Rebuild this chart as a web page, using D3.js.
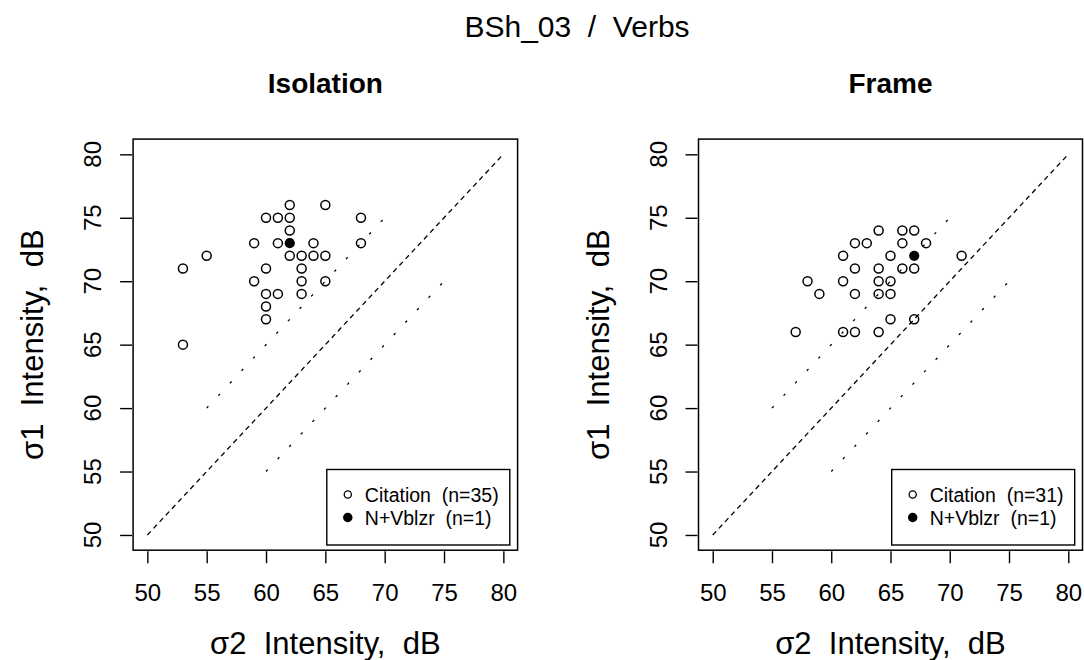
<!DOCTYPE html>
<html><head><meta charset="utf-8">
<script src="https://cdn.jsdelivr.net/npm/d3@7"></script>
<style>
body{margin:0;background:#fff;}
svg text{font-family:"Liberation Sans",Arial,sans-serif;white-space:pre;fill:#000;}
</style></head>
<body><svg id="c" width="1084" height="660"></svg>
<script>
// ---- data ----
const mainTitle = "BSh_03  /  Verbs";
const panelTitles = ["Isolation", "Frame"];
const xLabel = "σ2  Intensity,  dB";
const yLabel = "σ1  Intensity,  dB";
const tickValues = [50, 55, 60, 65, 70, 75, 80];
const legendLabelsIso = ["Citation  (n=35)", "N+Vblzr  (n=1)"];
const legendLabelsFrame = ["Citation  (n=31)", "N+Vblzr  (n=1)"];

const isoCitationX = [53,53,55,59,59,60,60,60,61,60,60,61,62,62,62,61,64,62,63,64,65,63,63,63,65,65,68,68];
const isoCitationY = [71,65,72,73,70,75,71,69,69,68,67,75,76,75,74,73,73,72,72,72,72,71,70,69,76,70,75,73];
const isoVerbX = [62];
const isoVerbY = [73];

const frameCitationX = [57,58,59,61,62,63,64,66,67,66,68,65,71,62,64,66,67,61,64,65,62,64,65,65,67,61,62,64];
const frameCitationY = [66,70,69,72,73,73,74,74,74,73,73,72,72,71,71,71,71,70,70,70,69,69,69,67,67,66,66,66];
const frameVerbX = [67];
const frameVerbY = [72];

// reference lines: identity and +/-5 dB bands
const diagX = [50, 80], diagY = [50, 80];
const upperX = [55, 70], upperY = [60, 75];
const lowerX = [60, 75], lowerY = [55, 70];

// ---- drawing ----
const svg = d3.select("#c");
const domain = [48.8, 81.2];
const plotTop = 139.1, plotBottom = 550.2;

svg.append("text").attr("x", 577).attr("y", 37).attr("text-anchor", "middle")
  .style("font-size", "30px").text(mainTitle);

const panels = [
  {left: 133.1, right: 517.6, title: panelTitles[0], cx: isoCitationX, cy: isoCitationY, vx: isoVerbX, vy: isoVerbY, leg: legendLabelsIso},
  {left: 698.5, right: 1082.5, title: panelTitles[1], cx: frameCitationX, cy: frameCitationY, vx: frameVerbX, vy: frameVerbY, leg: legendLabelsFrame}
];

panels.forEach(p => {
  const x = d3.scaleLinear().domain(domain).range([p.left, p.right]);
  const y = d3.scaleLinear().domain(domain).range([plotBottom, plotTop]);
  const g = svg.append("g");

  g.append("text").attr("x", (p.left + p.right) / 2).attr("y", 93).attr("text-anchor", "middle")
    .style("font-size", "28px").style("font-weight", "bold").text(p.title);

  const xa = g.append("g").attr("transform", `translate(0,${plotBottom + 1})`)
    .call(d3.axisBottom(x).tickValues(tickValues).tickSize(12).tickPadding(21).tickFormat(d3.format("d")));
  xa.select(".domain").remove();
  xa.selectAll("line").attr("stroke", "#000").attr("stroke-width", 1.4);
  xa.selectAll("text").style("font-size", "24px").attr("fill", "#000");

  const ya = g.append("g").attr("transform", `translate(${p.left - 1},0)`)
    .call(d3.axisLeft(y).tickValues(tickValues).tickSize(12).tickFormat(""));
  ya.select(".domain").remove();
  ya.selectAll("line").attr("stroke", "#000").attr("stroke-width", 1.4);
  tickValues.forEach(v => {
    g.append("text").attr("transform", `translate(${p.left - 32},${y(v)}) rotate(-90)`)
      .attr("text-anchor", "middle").style("font-size", "24px").text(v);
  });

  g.append("text").attr("x", (p.left + p.right) / 2).attr("y", 654).attr("text-anchor", "middle")
    .style("font-size", "31px").text(xLabel);
  g.append("text").attr("transform", `translate(${p.left - 90},${(plotTop + plotBottom) / 2}) rotate(-90)`)
    .attr("text-anchor", "middle").style("font-size", "31px").text(yLabel);

  const ln = (xs, ys, dash) => g.append("line")
    .attr("x1", x(xs[0])).attr("y1", y(ys[0])).attr("x2", x(xs[1])).attr("y2", y(ys[1]))
    .attr("stroke", "#000").attr("stroke-width", 1.3).attr("stroke-dasharray", dash);
  ln(diagX, diagY, "5,4");
  ln(upperX, upperY, "2.5,14.5");
  ln(lowerX, lowerY, "2.5,14.5");

  g.selectAll(".cit").data(d3.range(p.cx.length)).join("circle")
    .attr("cx", i => x(p.cx[i])).attr("cy", i => y(p.cy[i])).attr("r", 4.5)
    .attr("fill", "none").attr("stroke", "#000").attr("stroke-width", 1.5);
  g.selectAll(".vb").data(d3.range(p.vx.length)).join("circle")
    .attr("cx", i => x(p.vx[i])).attr("cy", i => y(p.vy[i])).attr("r", 5.1)
    .attr("fill", "#000");

  g.append("rect").attr("x", p.left).attr("y", plotTop).attr("width", p.right - p.left).attr("height", plotBottom - plotTop)
    .attr("fill", "none").attr("stroke", "#000").attr("stroke-width", 1.5);

  const lw = 183, lh = 75.5;
  const lx = p.right - 7.8 - lw, ly = plotBottom - 5.2 - lh;
  g.append("rect").attr("x", lx).attr("y", ly).attr("width", lw).attr("height", lh)
    .attr("fill", "#fff").attr("stroke", "#000").attr("stroke-width", 1.4);
  p.leg.forEach((t, i) => {
    const ry = ly + 25 + i * 23;
    g.append("circle").attr("cx", lx + 21).attr("cy", ry).attr("r", i === 0 ? 3.6 : 4.1)
      .attr("fill", i === 0 ? "none" : "#000").attr("stroke", "#000").attr("stroke-width", 1.3);
    g.append("text").attr("x", lx + 38).attr("y", ry + 7).style("font-size", "19.5px").text(t);
  });
});
</script></body></html>
